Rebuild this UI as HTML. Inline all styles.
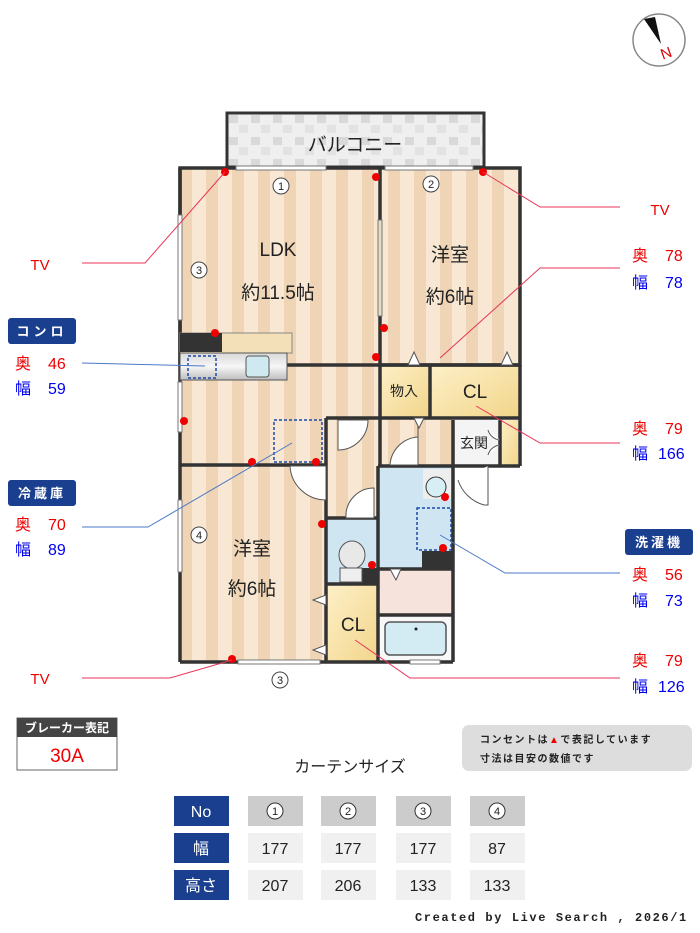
<!DOCTYPE html>
<html><head><meta charset="utf-8"><style>
html,body{margin:0;padding:0;background:#fff;}
svg{display:block;font-family:"Liberation Sans","Noto Sans CJK JP",sans-serif;}
</style></head><body>
<svg width="700" height="933" viewBox="0 0 700 933" xmlns="http://www.w3.org/2000/svg">
<defs>
<pattern id="st" width="26" height="10" patternUnits="userSpaceOnUse" x="180">
<rect width="26" height="10" fill="#f8e8d3"/><rect x="0" width="12" height="10" fill="#efd4b6"/>
</pattern>
<pattern id="tile" width="22" height="22" patternUnits="userSpaceOnUse" x="227" y="113">
<rect width="22" height="22" fill="#efefef"/><rect x="2" y="2" width="9" height="8" fill="#d9d9d9"/><rect x="12" y="12" width="9" height="8" fill="#e2e2e2"/>
</pattern>
<linearGradient id="yel" x1="0" y1="0" x2="1" y2="1"><stop offset="0" stop-color="#fdf0c8"/><stop offset="1" stop-color="#f2d58a"/></linearGradient>
<linearGradient id="steel" x1="0" y1="0" x2="0" y2="1"><stop offset="0" stop-color="#d8d8d8"/><stop offset=".5" stop-color="#f6f6f6"/><stop offset="1" stop-color="#bdbdbd"/></linearGradient>
</defs>

<!-- compass -->
<circle cx="659" cy="40" r="26" fill="#fff" stroke="#888" stroke-width="1.5"/>
<polygon points="644,19 655,17 661,44" fill="#111"/>
<text x="661" y="60" font-size="15" fill="#d00" transform="rotate(-20 661 55)">N</text>

<!-- balcony -->
<rect x="227" y="113" width="257" height="54" fill="url(#tile)" stroke="#333" stroke-width="3"/>
<text x="355" y="151" font-size="19" text-anchor="middle" fill="#222">バルコニー</text>

<!-- floors -->
<rect x="180" y="168" width="200" height="297" fill="url(#st)"/>
<rect x="380" y="168" width="140" height="197" fill="url(#st)"/>
<rect x="180" y="465" width="146" height="197" fill="url(#st)"/>
<rect x="326" y="418" width="127" height="47" fill="url(#st)"/>
<rect x="326" y="465" width="52" height="53" fill="url(#st)"/>
<rect x="380" y="365" width="50" height="52" fill="url(#yel)"/>
<rect x="430" y="365" width="90" height="52" fill="url(#yel)"/>
<rect x="453" y="420" width="47" height="46" fill="#f4f4f4"/>
<rect x="500" y="420" width="18" height="46" fill="url(#yel)"/>
<rect x="326" y="518" width="52" height="65" fill="#cfe6f2"/>
<rect x="378" y="466" width="75" height="102" fill="#cfe6f2"/>
<rect x="423" y="469" width="28" height="30" fill="#eee"/>
<rect x="378" y="570" width="75" height="45" fill="#f6e3dc"/>
<rect x="378" y="615" width="75" height="47" fill="#f8f8f8"/>
<rect x="385" y="622" width="61" height="33" rx="5" fill="#d3ebf3" stroke="#555" stroke-width="1.5"/>
<circle cx="416" cy="629" r="1.5" fill="#222"/>
<rect x="326" y="585" width="52" height="77" fill="url(#yel)"/>

<!-- walls -->
<g fill="none" stroke="#333" stroke-width="3.5">
<rect x="180" y="168" width="340" height="197"/>
<line x1="380" y1="168" x2="380" y2="465"/>
<line x1="380" y1="365" x2="520" y2="365"/>
<line x1="520" y1="365" x2="520" y2="466"/>
<line x1="180" y1="168" x2="180" y2="662"/>
<line x1="180" y1="662" x2="453" y2="662"/>
<line x1="453" y1="420" x2="453" y2="662"/>
<line x1="180" y1="465" x2="326" y2="465"/>
<line x1="326" y1="418" x2="326" y2="662"/>
<line x1="326" y1="418" x2="520" y2="418"/>
<line x1="430" y1="365" x2="430" y2="418"/>
<line x1="378" y1="466" x2="378" y2="662"/>
<line x1="378" y1="466" x2="453" y2="466"/>
<line x1="326" y1="518" x2="378" y2="518"/>
<line x1="326" y1="584" x2="378" y2="584"/>
<line x1="378" y1="569" x2="453" y2="569"/>
<line x1="378" y1="615" x2="453" y2="615"/>
<line x1="453" y1="466" x2="520" y2="466"/>
<line x1="500" y1="420" x2="500" y2="466"/>
</g>
<!-- windows -->
<g fill="#fff" stroke="#777" stroke-width="1">
<rect x="236" y="166" width="90" height="4"/><rect x="385" y="166" width="88" height="4"/>
<rect x="178" y="215" width="4" height="105"/><rect x="178" y="382" width="4" height="50"/>
<rect x="178" y="500" width="4" height="72"/><rect x="238" y="660" width="82" height="4"/>
<rect x="378" y="220" width="4" height="96" fill="#e8dcc0"/>
<rect x="410" y="660" width="30" height="4"/>
</g>
<!-- kitchen -->
<rect x="180" y="333" width="112" height="20" fill="#f3dfb8" stroke="#888"/>
<rect x="180" y="333" width="42" height="19" fill="#333"/>
<rect x="180" y="353" width="107" height="27" fill="url(#steel)" stroke="#555"/>
<rect x="246" y="356" width="23" height="21" rx="3" fill="#cfe9f0" stroke="#555"/>
<rect x="188" y="356" width="28" height="22" fill="none" stroke="#1a49a8" stroke-width="1.5" stroke-dasharray="3,2"/>
<rect x="274" y="420" width="48" height="42" fill="none" stroke="#1a49a8" stroke-width="1.5" stroke-dasharray="3,2"/>
<rect x="417" y="508" width="34" height="42" fill="none" stroke="#1a49a8" stroke-width="1.5" stroke-dasharray="3,2"/>
<rect x="422" y="551" width="31" height="18" fill="#333"/>
<rect x="362" y="568" width="16" height="16" fill="#333"/>
<ellipse cx="352" cy="555" rx="13" ry="14" fill="#e8e8e8" stroke="#555"/>
<rect x="340" y="568" width="22" height="14" fill="#eee" stroke="#555"/>
<circle cx="436" cy="487" r="10" fill="#d8eef5" stroke="#333"/>
<!-- doors -->
<g fill="#fff" stroke="#555" stroke-width="1">
<path d="M338 420 L338 450 A30 30 0 0 0 368 420 Z"/>
<path d="M418 420 L418 465 L390 465 A30 30 0 0 1 418 437"/>
<path d="M326 466 L290 466 A36 36 0 0 0 326 500 Z"/>
<path d="M374 518 L374 488 A28 28 0 0 0 346 518 Z"/>
<path d="M488 466 L488 505 L484 505 A38 38 0 0 1 458 480"/>
<path d="M488 430 A14 14 0 0 0 500 440"/><path d="M488 455 A14 14 0 0 1 500 445"/>
</g>
<g fill="#fff" stroke="#555"><polygon points="408,365 414,352 420,365"/><polygon points="501,365 507,352 513,365"/><polygon points="414,418 419,428 424,418"/><polygon points="390,569 396,580 401,569"/><polygon points="326,595 313,600 326,605"/><polygon points="326,645 313,650 326,655"/></g>

<!-- room labels -->
<g fill="#222" text-anchor="middle">
<text x="278" y="256" font-size="19">LDK</text>
<text x="278" y="299" font-size="19">約11.5帖</text>
<text x="450" y="261" font-size="19">洋室</text>
<text x="450" y="303" font-size="19">約6帖</text>
<text x="252" y="555" font-size="19">洋室</text>
<text x="252" y="595" font-size="19">約6帖</text>
<text x="404" y="396" font-size="14">物入</text>
<text x="475" y="398" font-size="19">CL</text>
<text x="474" y="448" font-size="14">玄関</text>
<text x="353" y="631" font-size="19">CL</text>
</g>
<!-- numbered circles -->
<g fill="#fff" stroke="#444" stroke-width="1"><circle cx="281" cy="186" r="8"/><circle cx="431" cy="184" r="8"/><circle cx="199" cy="270" r="8"/><circle cx="199" cy="535" r="8"/><circle cx="280" cy="680" r="8"/></g>
<g font-size="11" text-anchor="middle" fill="#222"><text x="281" y="190">1</text><text x="431" y="188">2</text><text x="199" y="274">3</text><text x="199" y="539">4</text><text x="280" y="684">3</text></g>
<!-- outlets -->
<g fill="#e00"><circle cx="225" cy="172" r="4"/><circle cx="376" cy="177" r="4"/><circle cx="483" cy="172" r="4"/><circle cx="384" cy="328" r="4"/><circle cx="376" cy="357" r="4"/><circle cx="215" cy="333" r="4"/><circle cx="184" cy="421" r="4"/><circle cx="252" cy="462" r="4"/><circle cx="316" cy="462" r="4"/><circle cx="322" cy="524" r="4"/><circle cx="372" cy="565" r="4"/><circle cx="445" cy="497" r="4"/><circle cx="443" cy="548" r="4"/><circle cx="232" cy="659" r="4"/></g>

<!-- leader lines -->
<g fill="none" stroke-width="1">
<polyline stroke="#e8365a" points="82,263 145,263 225,172"/>
<polyline stroke="#e8365a" points="620,207 540,207 483,172"/>
<polyline stroke="#e8365a" points="620,268 540,268 440,358"/>
<polyline stroke="#e8365a" points="620,443 540,443 476,406"/>
<polyline stroke="#e8365a" points="82,678 170,678 232,660"/>
<polyline stroke="#e8365a" points="620,678 410,678 355,640"/>
<polyline stroke="#4a78c8" points="82,363 205,366"/>
<polyline stroke="#4a78c8" points="82,527 148,527 292,443"/>
<polyline stroke="#4a78c8" points="620,573 505,573 440,535"/>
</g>

<!-- side labels -->
<g font-size="15" text-anchor="middle" fill="#e00"><text x="40" y="270">TV</text><text x="660" y="215">TV</text><text x="40" y="684">TV</text></g>
<g font-size="13" fill="#fff" text-anchor="middle" font-weight="bold">
<rect x="8" y="318" width="68" height="26" rx="3" fill="#1b3f8f"/><text x="42" y="336" letter-spacing="4">コンロ</text>
<rect x="8" y="480" width="68" height="26" rx="3" fill="#1b3f8f"/><text x="42" y="498" letter-spacing="3">冷蔵庫</text>
<rect x="625" y="529" width="68" height="26" rx="3" fill="#1b3f8f"/><text x="659" y="547" letter-spacing="3">洗濯機</text>
</g>
<g font-size="16">
<text x="15" y="369" fill="#e00">奥</text><text x="48" y="369" fill="#e00">46</text>
<text x="15" y="394" fill="#00e">幅</text><text x="48" y="394" fill="#00e">59</text>
<text x="15" y="530" fill="#e00">奥</text><text x="48" y="530" fill="#e00">70</text>
<text x="15" y="555" fill="#00e">幅</text><text x="48" y="555" fill="#00e">89</text>
<text x="632" y="261" fill="#e00">奥</text><text x="665" y="261" fill="#e00">78</text>
<text x="632" y="288" fill="#00e">幅</text><text x="665" y="288" fill="#00e">78</text>
<text x="632" y="434" fill="#e00">奥</text><text x="665" y="434" fill="#e00">79</text>
<text x="632" y="459" fill="#00e">幅</text><text x="658" y="459" fill="#00e">166</text>
<text x="632" y="580" fill="#e00">奥</text><text x="665" y="580" fill="#e00">56</text>
<text x="632" y="606" fill="#00e">幅</text><text x="665" y="606" fill="#00e">73</text>
<text x="632" y="666" fill="#e00">奥</text><text x="665" y="666" fill="#e00">79</text>
<text x="632" y="692" fill="#00e">幅</text><text x="658" y="692" fill="#00e">126</text>
</g>

<!-- breaker -->
<rect x="17" y="718" width="100" height="52" fill="#fff" stroke="#666"/>
<rect x="17" y="718" width="100" height="19" fill="#444"/>
<text x="67" y="732" font-size="12" fill="#fff" text-anchor="middle" font-weight="bold">ブレーカー表記</text>
<text x="67" y="762" font-size="19" fill="#e00" text-anchor="middle">30A</text>
<!-- note -->
<rect x="462" y="725" width="230" height="46" rx="7" fill="#ddd"/>
<text x="480" y="743" font-size="10" fill="#222" font-weight="bold" letter-spacing="1.5">コンセントは<tspan fill="#e00">▲</tspan>で表記しています</text>
<text x="480" y="762" font-size="10" fill="#222" font-weight="bold" letter-spacing="1.5">寸法は目安の数値です</text>
<text x="350" y="772" font-size="16" fill="#222" text-anchor="middle">カーテンサイズ</text>
<!-- table -->
<g>
<rect x="174" y="796" width="55" height="30" fill="#1b3f8f"/><rect x="174" y="833" width="55" height="30" fill="#1b3f8f"/><rect x="174" y="870" width="55" height="30" fill="#1b3f8f"/>
<g fill="#ccc"><rect x="248" y="796" width="55" height="30"/><rect x="321" y="796" width="55" height="30"/><rect x="396" y="796" width="55" height="30"/><rect x="470" y="796" width="55" height="30"/></g>
<g fill="#f0f0f0"><rect x="248" y="833" width="55" height="30"/><rect x="321" y="833" width="55" height="30"/><rect x="396" y="833" width="55" height="30"/><rect x="470" y="833" width="55" height="30"/>
<rect x="248" y="870" width="55" height="30"/><rect x="321" y="870" width="55" height="30"/><rect x="396" y="870" width="55" height="30"/><rect x="470" y="870" width="55" height="30"/></g>
<g fill="#fff" stroke="#333"><circle cx="275" cy="811" r="8"/><circle cx="348" cy="811" r="8"/><circle cx="423" cy="811" r="8"/><circle cx="497" cy="811" r="8"/></g>
<g font-size="16" text-anchor="middle" fill="#fff"><text x="201" y="817">No</text><text x="201" y="854">幅</text><text x="201" y="891">高さ</text></g>
<g font-size="11" text-anchor="middle" fill="#222"><text x="275" y="815">1</text><text x="348" y="815">2</text><text x="423" y="815">3</text><text x="497" y="815">4</text></g>
<g font-size="16" text-anchor="middle" fill="#222"><text x="275" y="854">177</text><text x="348" y="854">177</text><text x="423" y="854">177</text><text x="497" y="854">87</text>
<text x="275" y="891">207</text><text x="348" y="891">206</text><text x="423" y="891">133</text><text x="497" y="891">133</text></g>
</g>
<text x="415" y="921" font-size="12" fill="#222" font-weight="bold" letter-spacing="1.6" font-family="Liberation Mono, monospace">Created by Live Search , 2026/1</text>
</svg>
</body></html>
